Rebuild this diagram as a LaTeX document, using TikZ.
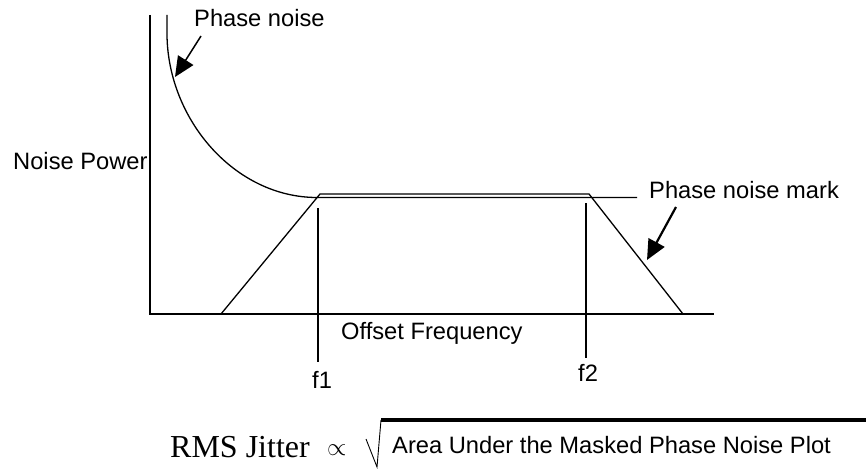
\documentclass[tikz,border=0pt]{standalone}
\usepackage{fontspec}
\setmainfont{Liberation Sans}
\newfontfamily\serifface{Liberation Serif}
\usetikzlibrary{arrows.meta}
\begin{document}
\begin{tikzpicture}[x=1pt,y=-1pt,
  lbl/.style={font=\fontsize{23.7}{28}\selectfont, inner sep=0pt, anchor=base west},
  curve/.style={line width=1.3pt},
  pointer/.style={line width=1.8pt,-{Triangle[length=20pt,width=18pt]}}]
\useasboundingbox (0,0) rectangle (866,468);
% axes
\coordinate (ytop) at (150,15);
\coordinate (org) at (150,314);
\coordinate (xend) at (714,314);
\draw[curve] (ytop) -- (org) -- (xend);
% phase noise curve
\coordinate (pn0) at (167,15);
\coordinate (pn1) at (167,35);
\coordinate (pnk) at (317,197.5);
\coordinate (pnend) at (637,197.5);
\draw[curve] (pn0) -- (pn1) .. controls (168,120) and (235,197.5) .. (pnk) -- (pnend);
% mask
\coordinate (m1) at (221,314);
\coordinate (m2) at (320,194);
\coordinate (m3) at (589,194);
\coordinate (m4) at (683,314);
\draw[curve] (m1) -- (m2) -- (m3) -- (m4);
% frequency markers
\coordinate (f1t) at (318,208);
\coordinate (f1b) at (318,362);
\coordinate (f2t) at (586,203);
\coordinate (f2b) at (586,358);
\draw[curve] (f1t) -- (f1b);
\draw[curve] (f2t) -- (f2b);
% labels
\node[lbl] (pnlab) at (194,27) {Phase noise};
\node[lbl] (nplab) at (13,169) {Noise Power};
\node[lbl] (pmlab) at (649,198) {Phase noise mark};
\node[lbl] (oflab) at (341,339) {Offset Frequency};
\node[lbl] (f1lab) at (312,388) {f1};
\node[lbl] (f2lab) at (578,381) {f2};
% pointers
\coordinate (a1s) at (201,36);
\coordinate (a1e) at (175,77);
\coordinate (a2s) at (676,207);
\coordinate (a2e) at (647,260);
\draw[pointer,line width=1.5pt] (a1s) -- (a1e);
\draw[pointer,line width=2.2pt] (a2s) -- (a2e);
% formula
\node[font=\serifface\fontsize{32}{36}\selectfont, inner sep=0pt, anchor=base west] (rms) at (170,457) {RMS Jitter};
\node[font=\fontsize{24}{28}\selectfont, inner sep=0pt, anchor=base west] (prop) at (327,455) {$\propto$};
\coordinate (r1) at (366,439);
\coordinate (r2) at (377,467);
\coordinate (r3) at (381,420);
\coordinate (r4) at (866,420);
\draw[line width=0.9pt] (r1) -- (r2) -- (r3);
\draw[line width=3.3pt] (r3) -- (r4);
\node[lbl] (area) at (392,453) {Area Under the Masked Phase Noise Plot};
\end{tikzpicture}
\end{document}
